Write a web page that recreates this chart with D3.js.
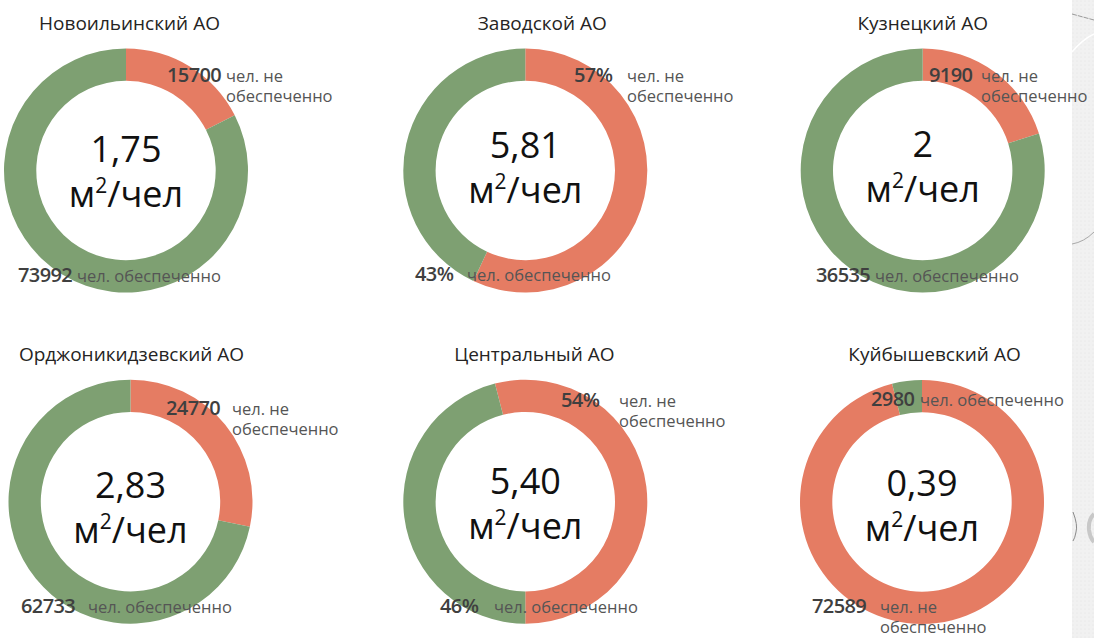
<!DOCTYPE html>
<html lang="ru">
<head>
<meta charset="utf-8">
<script src="https://cdn.jsdelivr.net/npm/d3@7"></script>
<style>
  html, body { margin: 0; padding: 0; background: #ffffff; }
  svg { display: block; font-family: "Segoe UI", "Open Sans", "Noto Sans", sans-serif; }
</style>
</head>
<body>
<svg id="chart" width="1094" height="638"></svg>
<script>
// Districts and their values
const districts = ["Новоильинский АО", "Заводской АО", "Кузнецкий АО",
                   "Орджоникидзевский АО", "Центральный АО", "Куйбышевский АО"];
const areaPerPerson = ["1,75", "5,81", "2", "2,83", "5,40", "0,39"];
const notProvided = [15700, 57, 9190, 24770, 54, 72589];
const provided    = [73992, 43, 36535, 62733, 46, 2980];
const valueUnits  = ["", "%", "", "", "%", ""];
const categoryLines = [["чел. не", "обеспеченно"], ["чел. обеспеченно"]];
const unitText = ["м", "2", "/чел"];

// Layout of each donut panel (centre, rotation, label placement)
const panels = [
  { cx: 126,   cy: 170.5, rot: 0,     titleDx: 3.5,  centerDy: -9,
    labels: [{ nx: 41,   tx: 100,  y: -88.5 }, { nx: -108,  tx: -49,   y: 111.5 }] },
  { cx: 525.3, cy: 170.5, rot: 0,     titleDx: 17,   centerDy: -13,
    labels: [{ nx: 48.7, tx: 101.7, y: -88.5 }, { nx: -110.3, tx: -58.3, y: 110.5 }] },
  { cx: 922.7, cy: 170.5, rot: 0,     titleDx: 0,    centerDy: -14,
    labels: [{ nx: 6.3,  tx: 58.3, y: -88.5 }, { nx: -106.7, tx: -47.7, y: 111.5 }] },
  { cx: 130.5, cy: 501.7, rot: 0,     titleDx: 1,    centerDy: -4,
    labels: [{ nx: 35.5, tx: 101.5, y: -86.7 }, { nx: -109.5, tx: -42.5, y: 111.3 }] },
  { cx: 525.3, cy: 501.7, rot: -14.4, titleDx: 9,    centerDy: -8,
    labels: [{ nx: 35.7, tx: 93.7, y: -94.7 }, { nx: -85.3,  tx: -31.3, y: 111.3 }] },
  { cx: 922,   cy: 502,   rot: 0,     titleDx: 12.5, centerDy: -6,
    labels: [{ nx: -110, tx: -42,  y: 111 },   { nx: -51,    tx: -2,    y: -96 }] }
];

const outerR = 122, innerR = 89.7;
const colors = d3.scaleOrdinal().domain(["not", "yes"]).range(["#e57c63", "#7ea072"]);

const svg = d3.select("#chart");

// Light patterned strip on the right edge
const defs = svg.append("defs");
const pat = defs.append("pattern").attr("id", "dots")
  .attr("width", 4).attr("height", 4).attr("patternUnits", "userSpaceOnUse");
pat.append("rect").attr("width", 4).attr("height", 4).attr("fill", "#f1f1f1");
pat.append("circle").attr("cx", 1).attr("cy", 1).attr("r", 0.6).attr("fill", "#e2e2e2");
svg.append("rect").attr("x", 1072).attr("y", 0).attr("width", 22).attr("height", 638)
  .attr("fill", "url(#dots)");
const deco = svg.append("g").attr("fill", "none");
deco.append("path").attr("d", "M1072,14 L1094,20").attr("stroke", "#9a9a9a")
  .attr("stroke-width", 1).attr("stroke-dasharray", "5,1");
deco.append("path").attr("d", "M1072,52 Q1082,40 1094,34").attr("stroke", "#ffffff").attr("stroke-width", 1.5);
deco.append("path").attr("d", "M1072,244 Q1084,242 1094,232").attr("stroke", "#a8a8a8").attr("stroke-width", 1);
deco.append("path").attr("d", "M1073,512 Q1078,525 1076,532 Q1075,538 1073,541").attr("stroke", "#8a8a8a").attr("stroke-width", 1);
deco.append("path").attr("d", "M1094,514 Q1088,520 1089,530 Q1090,538 1094,542").attr("stroke", "#c8c8c8").attr("stroke-width", 4);

const fmt = d3.format("d");
const arc = d3.arc().innerRadius(innerR).outerRadius(outerR);

panels.forEach((p, i) => {
  const g = svg.append("g").attr("transform", `translate(${p.cx},${p.cy})`);
  const rot = p.rot * Math.PI / 180;
  const pie = d3.pie().sort(null).value(d => d.value)
    .startAngle(rot).endAngle(rot + 2 * Math.PI);
  const slices = [
    { key: "not", value: notProvided[i], lines: categoryLines[0] },
    { key: "yes", value: provided[i],    lines: categoryLines[1] }
  ];
  const arcs = pie(slices);

  g.selectAll("path.slice").data(arcs).join("path")
    .attr("class", "slice")
    .attr("d", arc)
    .attr("fill", d => colors(d.data.key));

  // Title
  g.append("text")
    .attr("x", p.titleDx).attr("y", -141)
    .attr("text-anchor", "middle")
    .attr("font-size", 19).attr("fill", "#252423")
    .text(districts[i]);

  // Centre value
  g.append("text")
    .attr("x", 0).attr("y", p.centerDy)
    .attr("text-anchor", "middle")
    .attr("font-size", 36).attr("fill", "#111111")
    .text(areaPerPerson[i]);
  const unit = g.append("text")
    .attr("x", 0).attr("y", p.centerDy + 45)
    .attr("text-anchor", "middle")
    .attr("font-size", 36).attr("fill", "#111111");
  unit.append("tspan").text(unitText[0]);
  unit.append("tspan").attr("font-size", 21).attr("dy", -14).text(unitText[1]);
  unit.append("tspan").attr("dy", 14).text(unitText[2]);

  // Data labels
  slices.forEach((s, j) => {
    const L = p.labels[j];
    g.append("text")
      .attr("x", L.nx).attr("y", L.y)
      .attr("font-size", 20).attr("font-weight", 600)
      .attr("letter-spacing", -0.6)
      .attr("fill", "#3f3f3f")
      .text(fmt(s.value) + valueUnits[i]);
    const t = g.append("text")
      .attr("x", L.tx).attr("y", L.y)
      .attr("font-size", 16.5).attr("fill", "#555555");
    s.lines.forEach((line, k) => {
      t.append("tspan").attr("x", L.tx).attr("dy", k === 0 ? 0 : 19.5).text(line);
    });
  });
});
</script>
</body>
</html>
